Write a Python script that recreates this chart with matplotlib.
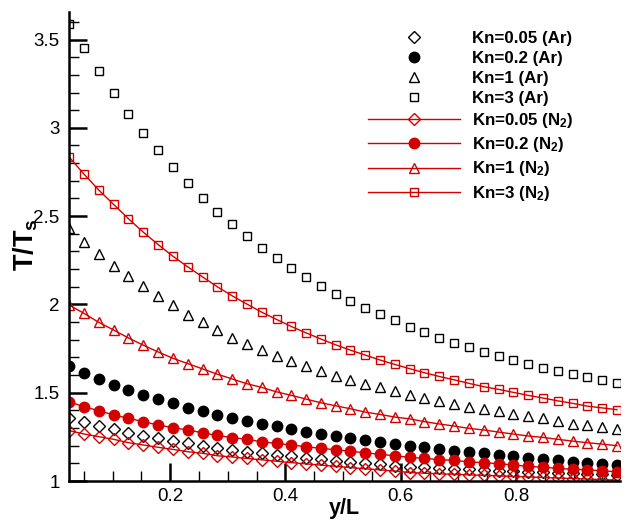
import matplotlib
matplotlib.use("Agg")
import matplotlib.pyplot as plt
from matplotlib.ticker import MultipleLocator, FormatStrFormatter

plt.rcParams["font.family"] = ["Liberation Sans", "DejaVu Sans"]
plt.rcParams["mathtext.fontset"] = "custom"
plt.rcParams["mathtext.rm"] = "Liberation Sans:bold"
plt.rcParams["mathtext.it"] = "Liberation Sans:bold"
plt.rcParams["mathtext.bf"] = "Liberation Sans:bold"

# ---- data --------------------------------------------------------------------
y_L = [0.0250, 0.0507, 0.0764, 0.1020, 0.1277, 0.1534, 0.1791, 0.2047, 0.2304, 0.2561,
       0.2818, 0.3074, 0.3331, 0.3588, 0.3845, 0.4101, 0.4358, 0.4615, 0.4872, 0.5128,
       0.5385, 0.5642, 0.5899, 0.6155, 0.6412, 0.6669, 0.6926, 0.7182, 0.7439, 0.7696,
       0.7953, 0.8209, 0.8466, 0.8723, 0.8980, 0.9236, 0.9493, 0.9750]

ar_kn005 = [1.355, 1.332, 1.311, 1.293, 1.273, 1.255, 1.241, 1.228, 1.213, 1.200,
            1.185, 1.175, 1.166, 1.157, 1.148, 1.140, 1.132, 1.124, 1.116, 1.109,
            1.101, 1.094, 1.087, 1.081, 1.077, 1.073, 1.069, 1.066, 1.062, 1.059,
            1.056, 1.053, 1.050, 1.047, 1.044, 1.041, 1.038, 1.035]
ar_kn02 = [1.653, 1.613, 1.576, 1.545, 1.515, 1.487, 1.462, 1.440, 1.415, 1.396,
           1.375, 1.357, 1.340, 1.324, 1.309, 1.294, 1.279, 1.268, 1.255, 1.241,
           1.230, 1.219, 1.209, 1.200, 1.191, 1.181, 1.171, 1.164, 1.157, 1.149,
           1.141, 1.132, 1.125, 1.117, 1.109, 1.104, 1.096, 1.089]
ar_kn1 = [2.430, 2.354, 2.287, 2.219, 2.162, 2.104, 2.050, 1.996, 1.942, 1.898,
          1.855, 1.811, 1.774, 1.741, 1.709, 1.679, 1.651, 1.623, 1.596, 1.573,
          1.551, 1.530, 1.509, 1.485, 1.471, 1.454, 1.437, 1.420, 1.407, 1.394,
          1.381, 1.368, 1.355, 1.338, 1.325, 1.315, 1.307, 1.296]
ar_kn3 = [3.590, 3.452, 3.322, 3.198, 3.079, 2.969, 2.873, 2.779, 2.688, 2.603,
          2.524, 2.453, 2.385, 2.320, 2.262, 2.205, 2.154, 2.107, 2.060, 2.017,
          1.977, 1.943, 1.911, 1.872, 1.841, 1.811, 1.783, 1.757, 1.730, 1.707,
          1.685, 1.664, 1.641, 1.623, 1.606, 1.587, 1.570, 1.553]

n2_kn005 = [1.285, 1.266, 1.251, 1.236, 1.217, 1.204, 1.191, 1.179, 1.166, 1.157,
            1.143, 1.136, 1.128, 1.120, 1.112, 1.104, 1.097, 1.090, 1.083, 1.076,
            1.069, 1.063, 1.056, 1.048, 1.044, 1.041, 1.038, 1.035, 1.032, 1.029,
            1.026, 1.023, 1.020, 1.017, 1.014, 1.011, 1.008, 1.005]
n2_kn02 = [1.449, 1.420, 1.398, 1.374, 1.355, 1.336, 1.317, 1.302, 1.289, 1.273,
           1.258, 1.246, 1.236, 1.222, 1.213, 1.204, 1.194, 1.185, 1.177, 1.168,
           1.160, 1.151, 1.143, 1.134, 1.128, 1.121, 1.117, 1.108, 1.104, 1.098,
           1.091, 1.083, 1.078, 1.072, 1.066, 1.064, 1.057, 1.053]
n2_kn1 = [1.996, 1.949, 1.898, 1.855, 1.810, 1.769, 1.731, 1.695, 1.665, 1.635,
          1.605, 1.578, 1.551, 1.530, 1.505, 1.485, 1.464, 1.443, 1.426, 1.409,
          1.390, 1.377, 1.362, 1.352, 1.336, 1.323, 1.311, 1.298, 1.289, 1.277,
          1.266, 1.255, 1.247, 1.236, 1.226, 1.217, 1.209, 1.200]
n2_kn3 = [2.834, 2.737, 2.647, 2.566, 2.485, 2.409, 2.339, 2.273, 2.213, 2.156,
          2.100, 2.049, 2.002, 1.956, 1.915, 1.875, 1.839, 1.804, 1.771, 1.741,
          1.713, 1.685, 1.660, 1.636, 1.613, 1.592, 1.573, 1.553, 1.534, 1.519,
          1.502, 1.485, 1.470, 1.454, 1.440, 1.424, 1.414, 1.404]

ar_series = [("Kn=0.05 (Ar)", ar_kn005, "D", "none"),
             ("Kn=0.2 (Ar)", ar_kn02, "o", "k"),
             ("Kn=1 (Ar)", ar_kn1, "^", "none"),
             ("Kn=3 (Ar)", ar_kn3, "s", "none")]
n2_series = [("Kn=0.05 (N$_2$)", n2_kn005, "D", "none"),
             ("Kn=0.2 (N$_2$)", n2_kn02, "o", "#d40000"),
             ("Kn=1 (N$_2$)", n2_kn1, "^", "none"),
             ("Kn=3 (N$_2$)", n2_kn3, "s", "none")]
msize = {"D": 6.0, "o": 7.5, "^": 6.5, "s": 6.2}
RED = "#d40000"

fig = plt.figure(figsize=(6.27, 5.25), dpi=100)
ax = fig.add_axes([0.1105, 0.0838, 0.878, 0.893])

for lab, v, m, fc in ar_series:
    ax.plot(y_L, v, ls="none", marker=m, ms=msize[m], mfc=fc, mec="k", mew=1.0, label=lab)
for lab, v, m, fc in n2_series:
    ax.plot(y_L, v, ls="-", lw=1.0, color=RED, marker=m, ms=msize[m], mfc=fc, mec=RED,
            mew=1.0, label=lab)

ax.set_xlim(0.025, 0.98)
ax.set_ylim(1.0, 3.655)
ax.spines["top"].set_visible(False); ax.spines["right"].set_visible(False)
for s in ("left", "bottom"):
    ax.spines[s].set_linewidth(1.8)
ax.xaxis.set_major_locator(MultipleLocator(0.2)); ax.xaxis.set_minor_locator(MultipleLocator(0.05))
ax.yaxis.set_major_locator(MultipleLocator(0.5)); ax.yaxis.set_minor_locator(MultipleLocator(0.1))
ax.yaxis.set_major_formatter(FormatStrFormatter("%g"))
ax.xaxis.set_major_formatter(FormatStrFormatter("%g"))
ax.tick_params(which="major", direction="in", length=13, width=1.8, labelsize=13.5, pad=7)
ax.tick_params(which="minor", direction="in", length=7, width=1.0)
ax.tick_params(axis="x", which="major", pad=5)

# axis titles: T/Ts is drawn noticeably larger than y/L in the original
ax.set_xlabel("y/L", fontsize=15.5, fontweight="bold")
ax.set_ylabel("T/T$_s$", fontsize=19.5, fontweight="bold")
ax.xaxis.set_label_coords(0.5, -0.036)
ax.yaxis.set_label_coords(-0.054, 0.505)

leg = ax.legend(loc="upper left", bbox_to_anchor=(0.587, 0.941), bbox_transform=fig.transFigure,
                frameon=False, fontsize=12.2, handlelength=5.4, handletextpad=0.75,
                labelspacing=0.3, borderpad=0, borderaxespad=0)
for t in leg.get_texts():
    t.set_fontweight("bold")

fig.savefig("out.png", dpi=100)
